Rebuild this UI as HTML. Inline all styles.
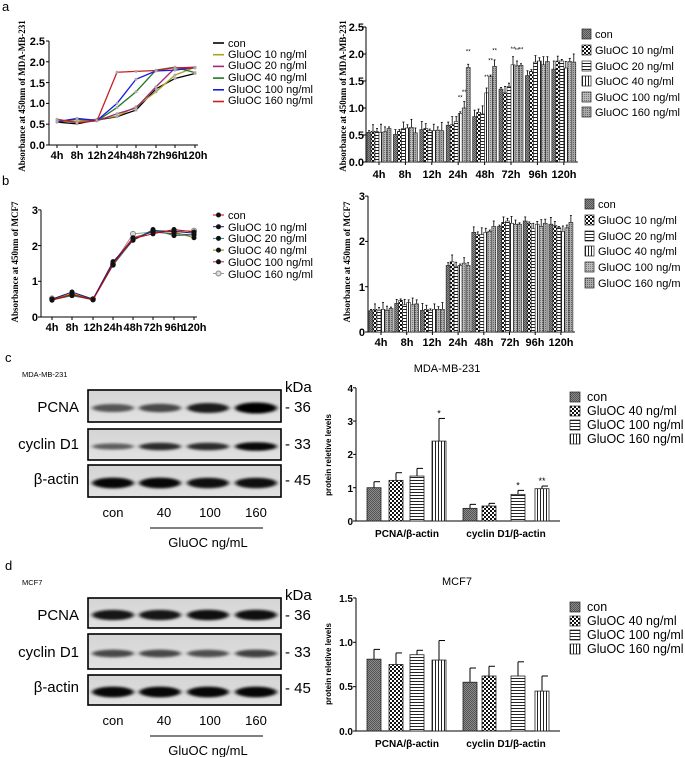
<!DOCTYPE html>
<html><head><meta charset="utf-8"><style>
body{margin:0;background:#fff}
svg{display:block;font-family:"Liberation Sans",Arial,sans-serif}
.ser{font-family:"Liberation Serif",serif;font-weight:bold}
</style></head><body>
<svg id="s" width="685" height="757" viewBox="0 0 685 757" xmlns="http://www.w3.org/2000/svg">
<defs>
<pattern id="pc" width="2" height="2" patternUnits="userSpaceOnUse"><rect width="2" height="2" fill="#8a8a8a"/><rect width="1" height="1" fill="#555"/><rect x="1" y="1" width="1" height="1" fill="#555"/></pattern>
<pattern id="pk" width="4" height="4" patternUnits="userSpaceOnUse"><rect width="4" height="4" fill="#fff"/><rect width="2" height="2" fill="#111"/><rect x="2" y="2" width="2" height="2" fill="#111"/></pattern>
<pattern id="ph" width="4" height="3" patternUnits="userSpaceOnUse"><rect width="4" height="3" fill="#fff"/><rect width="4" height="1" fill="#222"/></pattern>
<pattern id="pv" width="3" height="4" patternUnits="userSpaceOnUse"><rect width="3" height="4" fill="#fff"/><rect width="1" height="4" fill="#222"/></pattern>
<pattern id="pg" width="2" height="2" patternUnits="userSpaceOnUse"><rect width="2" height="2" fill="#bbb"/><rect width="1" height="1" fill="#777"/></pattern>
<pattern id="pg2" width="2" height="2" patternUnits="userSpaceOnUse"><rect width="2" height="2" fill="#aaa"/><rect x="1" width="1" height="1" fill="#666"/></pattern>
<filter id="bl" x="-30%" y="-100%" width="160%" height="300%"><feGaussianBlur stdDeviation="2 1.4"/></filter>
<linearGradient id="bg" x1="0" x2="0" y1="0" y2="1"><stop offset="0" stop-color="#d4d4d4"/><stop offset="1" stop-color="#e2e2e2"/></linearGradient>
</defs>
<g id="dyn"></g>
<text x="2" y="11" font-size="13">a</text>
<text x="2" y="185" font-size="13">b</text>
<text x="5" y="362" font-size="13">c</text>
<text x="5" y="570" font-size="13">d</text>

<text class="ser" font-size="9" transform="translate(25,96) rotate(-90)" text-anchor="middle">Absorbance at 450nm of MDA-MB-231</text>
<g font-size="11" font-weight="bold" text-anchor="end">
<text x="45" y="45">2.5</text><text x="45" y="66">2.0</text><text x="45" y="87">1.5</text><text x="45" y="107">1.0</text><text x="45" y="128">0.5</text><text x="45" y="149">0.0</text></g>
<g font-size="11" font-weight="bold" text-anchor="middle">
<text x="57" y="159">4h</text><text x="77" y="159">8h</text><text x="97" y="159">12h</text><text x="117" y="159">24h</text><text x="136" y="159">48h</text><text x="156" y="159">72h</text><text x="175" y="159">96h</text><text x="195" y="159">120h</text></g>
<g font-size="11">
<text x="228" y="47">con</text><text x="228" y="58">GluOC 10 ng/ml</text><text x="228" y="69">GluOC 20 ng/ml</text><text x="228" y="81">GluOC 40 ng/ml</text><text x="228" y="93">GluOC 100 ng/ml</text><text x="228" y="104">GluOC 160 ng/ml</text></g>

<text class="ser" font-size="9" transform="translate(346,96) rotate(-90)" text-anchor="middle">Absorbance at 450nm of MDA-MB-231</text>
<g font-size="11" font-weight="bold" text-anchor="end">
<text x="364" y="31">2.5</text><text x="364" y="58">2.0</text><text x="364" y="85">1.5</text><text x="364" y="112">1.0</text><text x="364" y="139">0.5</text><text x="364" y="166">0.0</text></g>
<g font-size="11" font-weight="bold" text-anchor="middle">
<text x="379" y="178">4h</text><text x="405" y="178">8h</text><text x="432" y="178">12h</text><text x="458" y="178">24h</text><text x="485" y="178">48h</text><text x="511" y="178">72h</text><text x="538" y="178">96h</text><text x="564" y="178">120h</text></g>
<g font-size="11">
<text x="595" y="38">con</text><text x="595" y="54">GluOC 10 ng/ml</text><text x="595" y="70">GluOC 20 ng/ml</text><text x="595" y="85">GluOC 40 ng/ml</text><text x="595" y="101">GluOC 100 ng/ml</text><text x="595" y="116">GluOC 160 ng/ml</text></g>

<text class="ser" font-size="9" transform="translate(18,262) rotate(-90)" text-anchor="middle">Absorbance at 450nm of MCF7</text>
<g font-size="11" font-weight="bold" text-anchor="end">
<text x="38" y="214">3</text><text x="38" y="250">2</text><text x="38" y="285">1</text><text x="38" y="321">0</text></g>
<g font-size="11" font-weight="bold" text-anchor="middle">
<text x="52" y="331">4h</text><text x="72" y="331">8h</text><text x="93" y="331">12h</text><text x="113" y="331">24h</text><text x="133" y="331">48h</text><text x="153" y="331">72h</text><text x="174" y="331">96h</text><text x="194" y="331">120h</text></g>
<g font-size="11">
<text x="228" y="219">con</text><text x="228" y="231">GluOC 10 ng/ml</text><text x="228" y="242">GluOC 20 ng/ml</text><text x="228" y="254">GluOC 40 ng/ml</text><text x="228" y="266">GluOC 100 ng/ml</text><text x="228" y="278">GluOC 160 ng/ml</text></g>

<text class="ser" font-size="9" transform="translate(350,262) rotate(-90)" text-anchor="middle">Absorbance at 450nm of MCF7</text>
<g font-size="11" font-weight="bold" text-anchor="end">
<text x="365" y="200">3</text><text x="365" y="245">2</text><text x="365" y="291">1</text><text x="365" y="336">0</text></g>
<g font-size="11" font-weight="bold" text-anchor="middle">
<text x="381" y="346">4h</text><text x="407" y="346">8h</text><text x="432" y="346">12h</text><text x="458" y="346">24h</text><text x="484" y="346">48h</text><text x="510" y="346">72h</text><text x="535" y="346">96h</text><text x="561" y="346">120h</text></g>
<g font-size="11">
<text x="598" y="208">con</text><text x="598" y="224">GluOC 10 ng/ml</text><text x="598" y="240">GluOC 20 ng/ml</text><text x="598" y="255">GluOC 40 ng/ml</text><text x="598" y="271">GluOC 100 ng/m</text><text x="598" y="287">GluOC 160 ng/m</text></g>

<text x="22" y="377" font-size="7.5">MDA-MB-231</text>
<g font-size="15" text-anchor="end"><text x="79" y="412">PCNA</text><text x="79" y="449">cyclin  D1</text><text x="79" y="484">β-actin</text></g>
<g font-size="15"><text x="285" y="392">kDa</text><text x="285" y="412">- 36</text><text x="285" y="449">- 33</text><text x="285" y="485">- 45</text></g>
<g font-size="13" text-anchor="middle"><text x="113" y="517">con</text><text x="164" y="517">40</text><text x="210" y="517">100</text><text x="256" y="517">160</text><text x="208" y="547">GluOC ng/mL</text></g>
<line x1="150" y1="528" x2="263" y2="528" stroke="#000"/>

<text x="22" y="585" font-size="7.5">MCF7</text>
<g font-size="15" text-anchor="end"><text x="79" y="620">PCNA</text><text x="79" y="657">cyclin  D1</text><text x="79" y="692">β-actin</text></g>
<g font-size="15"><text x="285" y="600">kDa</text><text x="285" y="620">- 36</text><text x="285" y="657">- 33</text><text x="285" y="693">- 45</text></g>
<g font-size="13" text-anchor="middle"><text x="113" y="725">con</text><text x="164" y="725">40</text><text x="210" y="725">100</text><text x="256" y="725">160</text><text x="208" y="755">GluOC ng/mL</text></g>
<line x1="150" y1="736" x2="263" y2="736" stroke="#000"/>

<text x="447" y="372" font-size="11" text-anchor="middle">MDA-MB-231</text>
<text transform="translate(331,455) rotate(-90)" font-size="8" font-weight="bold" text-anchor="middle">protein reletive levels</text>
<g font-size="10" font-weight="bold" text-anchor="end"><text x="353" y="392">4</text><text x="353" y="425">3</text><text x="353" y="458">2</text><text x="353" y="492">1</text><text x="353" y="525">0</text></g>
<g font-size="10" font-weight="bold" text-anchor="middle"><text x="407" y="537">PCNA/β-actin</text><text x="506" y="537">cyclin D1/β-actin</text></g>
<g font-size="12.5"><text x="587" y="401">con</text><text x="587" y="415">GluOC 40 ng/ml</text><text x="587" y="429">GluOC 100 ng/ml</text><text x="587" y="443">GluOC 160 ng/ml</text></g>

<text x="457" y="585" font-size="11" text-anchor="middle">MCF7</text>
<text transform="translate(331,664) rotate(-90)" font-size="8" font-weight="bold" text-anchor="middle">protein reletive levels</text>
<g font-size="10" font-weight="bold" text-anchor="end"><text x="353" y="602">1.5</text><text x="353" y="646">1.0</text><text x="353" y="690">0.5</text><text x="353" y="735">0.0</text></g>
<g font-size="10" font-weight="bold" text-anchor="middle"><text x="407" y="747">PCNA/β-actin</text><text x="506" y="747">cyclin D1/β-actin</text></g>
<g font-size="12.5"><text x="587" y="611">con</text><text x="587" y="625">GluOC 40 ng/ml</text><text x="587" y="639">GluOC 100 ng/ml</text><text x="587" y="653">GluOC 160 ng/ml</text></g>
</svg>
<script>
const NS="http://www.w3.org/2000/svg",G=document.getElementById('dyn');
function el(t,a){const e=document.createElementNS(NS,t);for(const k in a)e.setAttribute(k,a[k]);G.appendChild(e);return e;}
function ln(x1,y1,x2,y2,w,c){el('line',{x1,y1,x2,y2,stroke:c||'#000','stroke-width':w||1});}
const A=[[.55,.57,.56,.55,.56,.62],[.51,.57,.62,.63,.64,.54],[.6,.62,.58,.58,.59,.58],[.68,.69,.75,.9,1.0,1.75],[.84,.92,.89,1.28,1.58,1.77],[1.35,1.28,1.4,1.8,1.78,1.79],[1.6,1.68,1.85,1.87,1.8,1.86],[1.72,1.87,1.87,1.74,1.86,1.85]];
const B=[[.47,.5,.48,.5,.48,.52],[.63,.7,.6,.65,.6,.62],[.48,.5,.48,.5,.5,.5],[1.47,1.55,1.45,1.47,1.52,1.47],[2.2,2.15,2.15,2.2,2.22,2.33],[2.33,2.42,2.45,2.4,2.38,2.38],[2.45,2.4,2.28,2.38,2.33,2.4],[2.38,2.35,2.3,2.22,2.3,2.42]];
const pats=['url(#pc)','url(#pk)','url(#ph)','url(#pv)','url(#pg)','url(#pg2)'];
(function(){const x0=49,y0=145,s=41.6,xs=[57,77,97,117,136,156,175,195];
ln(x0,41,x0,y0);ln(x0,y0,198,y0);[0,.5,1,1.5,2,2.5].forEach(v=>ln(x0-3,y0-v*s,x0,y0-v*s));xs.forEach(x=>ln(x,y0,x,y0+3));
const cols=['#000','#b0a020','#a02878','#227a22','#1a1ae0','#c82020'];
A[0].forEach((_,k)=>{let p=xs.map((x,i)=>x+','+(y0-A[i][k]*s)).join(' ');el('polyline',{points:p,fill:'none',stroke:cols[k],'stroke-width':1.3});
xs.forEach((x,i)=>el('circle',{cx:x,cy:y0-A[i][k]*s,r:1.5,fill:'#aaa'}));
ln(213,43+k*11.7,224,43+k*11.7,1.6,cols[k]);});
})();
(function(){const x0=41,y0=317,s=35.7,xs=[52,72,93,113,133,153,174,194];
ln(x0,210,x0,y0);ln(x0,y0,197,y0);[0,1,2,3].forEach(v=>ln(x0-3,y0-v*s,x0,y0-v*s));xs.forEach(x=>ln(x,y0,x,y0+3));
const cols=['#c00','#1a1a80','#208080','#808000','#a02040','#999'];
for(let k=5;k>=0;k--){let p=xs.map((x,i)=>x+','+(y0-B[i][k]*s)).join(' ');el('polyline',{points:p,fill:'none',stroke:cols[k],'stroke-width':1});
xs.forEach((x,i)=>el('circle',{cx:x,cy:y0-B[i][k]*s,r:2.5,fill:k==5?'#ddd':'#111',stroke:k==5?'#888':'none'}));}
for(let k=0;k<6;k++){const y=215+k*11.7;ln(213,y,224,y,1,cols[k]);el('circle',{cx:218.5,cy:y,r:2.5,fill:k==5?'#ddd':'#111',stroke:k==5?'#888':'none'});}
})();
function tbar(D,x0,yTop,y0,s,c0,sp,ticks,legY,legX){
ln(x0,yTop,x0,y0);ln(x0,y0,c0+sp*7+14,y0);ticks.forEach(v=>ln(x0-3,y0-v*s,x0,y0-v*s));
D.forEach((g,i)=>{const c=c0+i*sp;ln(c,y0,c,y0+3);g.forEach((v,k)=>{const x=c-12+k*4,h=v*s,e=(0.03+((i*7+k*3)%5)*0.03)*s;
ln(x+2,y0-h-e,x+2,y0-h,0.8);ln(x+1,y0-h-e,x+3,y0-h-e,0.8);
el('rect',{x:x,y:y0-h,width:4,height:h,fill:pats[k],stroke:'#222','stroke-width':.6});});});
legY.forEach((y,k)=>el('rect',{x:legX,y:y-5,width:9,height:10,fill:pats[k],stroke:'#222','stroke-width':.7}));
}
tbar(A,366,27,162,54,379,26.4,[0,.5,1,1.5,2,2.5],[34,50,66,81,97,112],582);
tbar(B,368,196,332,45.3,381,25.7,[0,1,2,3],[204,220,236,251,267,283],585);
const st=[[3,3],[3,4],[3,5],[4,3],[4,4],[4,5],[5,3],[5,4],[5,5]];
st.forEach(([i,k])=>{const x=379+i*26.4-12+k*4+2,y=162-A[i][k]*54-14;const t=el('text',{x:x,y:y,'font-size':6,'text-anchor':'middle'});t.textContent='**';});
function sbar(y0,yTop,s,ticks,vals,errs,starsArr,legY){
ln(356,yTop,356,y0);ln(356,y0,560,y0);ticks.forEach(v=>ln(353,y0-v*s,356,y0-v*s));
const xs=[367,389,410,432,463,482,511,535];
xs.forEach((x,i)=>{const h=vals[i]*s,e=errs[i]*s;ln(x+7,y0-h-e,x+7,y0-h);ln(x+7,y0-h-e,x+13,y0-h-e);
el('rect',{x:x,y:y0-h,width:14,height:h,fill:pats[i%4],stroke:'#222','stroke-width':.8});
if(starsArr[i]){const t=el('text',{x:x+7,y:y0-h-e-2,'font-size':9,'text-anchor':'middle'});t.textContent=starsArr[i];}});
legY.forEach((y,k)=>el('rect',{x:570,y:y-5,width:10,height:10,fill:pats[k],stroke:'#222','stroke-width':.7}));
}
sbar(521,388,33.3,[0,1,2,3,4],[1,1.22,1.35,2.4,.38,.45,.8,.97],[.18,.23,.23,.68,.12,.08,.12,.08],['','','','*','','','*','**'],[397,411,425,439]);
sbar(731,598,88.7,[0,.5,1,1.5],[.81,.75,.86,.8,.55,.62,.62,.45],[.11,.13,.05,.22,.16,.11,.16,.17],['','','','','','','',''],[607,621,635,649]);
function blot(y1,y2,ints,thick){el('rect',{x:88,y:y1,width:193,height:y2-y1,fill:'url(#bg)',stroke:'#000','stroke-width':1.6});
const xs=[113,160,208,256],cy=(y1+y2)/2+2;
xs.forEach((x,i)=>{const a=ints[i];el('ellipse',{cx:x,cy:cy,rx:21,ry:thick*(0.6+a*0.5),fill:'#000','fill-opacity':Math.min(1,.35+a*.65),filter:'url(#bl)'});});}
blot(390,422,[.4,.5,.8,1],5);blot(429,460,[.35,.7,.7,.95],4);blot(465,497,[.95,.95,.9,.9],5);
blot(598,628,[.85,.85,.9,.9],5);blot(634,669,[.5,.5,.45,.55],4.5);blot(675,705,[.95,.95,.95,.95],5);
</script>
</body></html>
